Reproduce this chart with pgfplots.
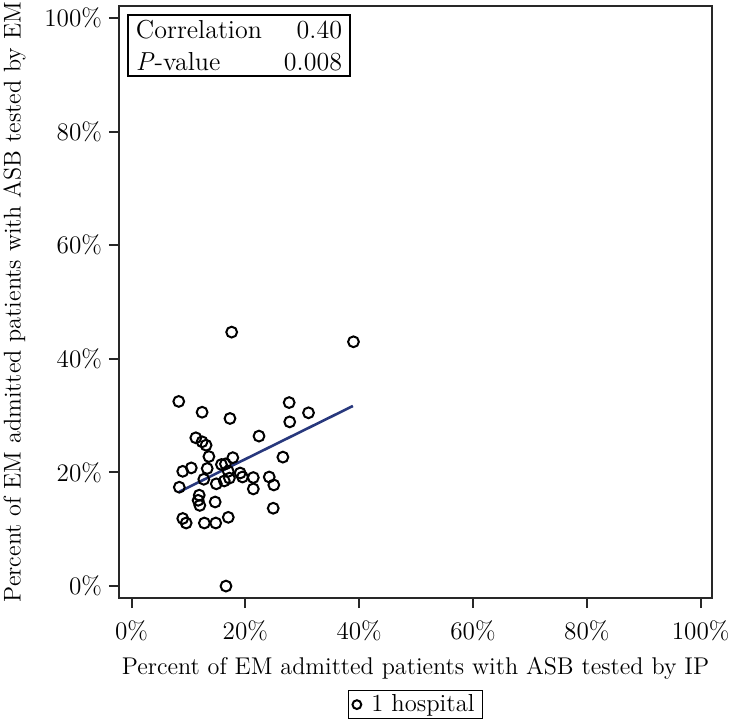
\documentclass[border=0pt]{standalone}
\usepackage{pgfplots}
\pgfplotsset{compat=1.18}
\definecolor{regline}{RGB}{40,56,125}
\definecolor{axcol}{RGB}{40,40,40}
\begin{document}
\begin{tikzpicture}
\begin{axis}[
  name=main,
  scale only axis, width=296.5pt, height=296pt,
  xmin=-2.2, xmax=102, ymin=-2.1, ymax=102.1,
  axis line style={line width=1pt, color=axcol},
  tick style={line width=1pt, color=axcol},
  tick align=outside, major tick length=5pt,
  xtick pos=left, ytick pos=left,
  xtick={0,20,40,60,80,100}, ytick={0,20,40,60,80,100},
  xticklabels={0\%,20\%,40\%,60\%,80\%,100\%},
  yticklabels={0\%,20\%,40\%,60\%,80\%,100\%},
  tick label style={font=\fontsize{12.6}{14}\selectfont},
  xticklabel shift=3pt,
  label style={font=\fontsize{12.1}{14}\selectfont},
  xlabel shift=1pt, ylabel shift=2.5pt,
  xlabel={Percent of EM admitted patients with ASB tested by IP},
  ylabel={Percent of EM admitted patients with ASB tested by EM},
  legend style={at={(0.5,-0.155)}, anchor=north, draw=black, line width=0.8pt,
    font=\fontsize{12.3}{14}\selectfont, inner xsep=2pt, inner ysep=0pt,
    nodes={inner sep=2pt}},
  legend image post style={mark size=2.2pt},
  legend cell align=left,
]
\addplot[only marks, mark=o, mark size=2.7pt, mark options={draw=black, fill=none, line width=1pt}] coordinates {
(17.6,44.7) (39.0,43.0) (8.3,32.5) (27.7,32.3) (12.4,30.6) (31.1,30.5)
(17.3,29.5) (27.8,28.9) (22.4,26.4) (11.3,26.1) (12.4,25.4) (13.1,24.8)
(13.6,22.8) (17.8,22.6) (26.6,22.7) (10.5,20.8) (9.0,20.2) (13.3,20.7)
(15.8,21.4) (16.5,21.5) (17.0,20.2) (19.1,19.9) (19.5,19.2) (21.4,19.1)
(24.2,19.2) (12.7,18.8) (17.2,19.0) (16.3,18.5) (14.9,18.0) (8.4,17.4)
(25.0,17.8) (21.4,17.1) (11.9,16.0) (11.7,15.1) (12.0,14.2) (14.7,14.8)
(24.9,13.7) (9.0,11.9) (9.6,11.1) (12.8,11.1) (14.8,11.1) (17.0,12.1)
(16.6,0.0)
};
\addlegendentry{\hspace{3pt}1 hospital}
\addplot[forget plot, regline, line width=1.3pt] coordinates {(8.4,16.6) (38.9,31.7)};
\node[draw=black, line width=1pt, anchor=north west, inner xsep=4pt, inner ysep=2.5pt,
  text width=103pt, align=left,
  font=\fontsize{13}{16.3}\selectfont, xshift=4pt, yshift=-4pt] at (rel axis cs:0,1)
  {Correlation\hfill 0.40\\ \textit{P}-value\hfill 0.008};
\end{axis}
\pgfresetboundingbox
\path[use as bounding box] ([shift={(-59.5pt,-60.5pt)}]main.south west) rectangle ([shift={(10pt,3pt)}]main.north east);
\end{tikzpicture}
\end{document}
